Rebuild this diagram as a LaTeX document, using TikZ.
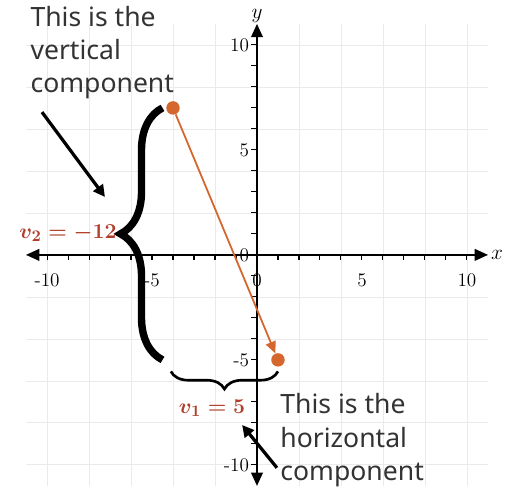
\documentclass[tikz,border=0pt]{standalone}
\usepackage{fontspec}
\usetikzlibrary{arrows.meta,decorations.pathreplacing,positioning}

\newfontfamily\notefont{Noto Sans}
\definecolor{vecorange}{RGB}{212,102,46}
\definecolor{labelred}{RGB}{176,62,42}
\definecolor{gridgray}{RGB}{234,234,234}
\definecolor{notegray}{RGB}{51,51,51}

\tikzset{
  note/.style={font=\notefont\fontsize{18}{22.5}\selectfont, text=notegray, align=left, inner sep=0pt},
  complabel/.style={font=\fontsize{15}{17}\selectfont\boldmath, text=labelred, inner sep=1pt},
  ticklabel/.style={font=\fontsize{13}{15}\selectfont, inner sep=1pt},
  axisname/.style={font=\fontsize{14}{16}\selectfont, inner sep=1pt},
  pointer/.style={line width=2.2pt, -{Triangle[length=8pt,width=8pt]}},
  compbrace/.style={decorate, decoration={brace, amplitude=#1}},
  enddot/.style={circle, fill=vecorange, inner sep=0pt, minimum size=0.32cm}
}

\begin{document}
\begin{tikzpicture}[x=0.5cm,y=0.5cm]
  \useasboundingbox (-12.24,-11.19) rectangle (11.86,12.14);

  % grid and axes
  \draw[gridgray, line width=0.5pt] (-11,-11) grid (11,11);
  \coordinate (xmin) at (-11,0);
  \coordinate (xmax) at (11,0);
  \coordinate (ymin) at (0,-11);
  \coordinate (ymax) at (0,11);
  \draw[line width=1pt, {Triangle[length=9pt,width=8pt]}-{Triangle[length=9pt,width=8pt]}] (xmin) -- (xmax);
  \draw[line width=1pt, {Triangle[length=9pt,width=8pt]}-{Triangle[length=9pt,width=8pt]}] (ymin) -- (ymax);
  \node[axisname, right=1pt of xmax] (xname) {$x$};
  \node[axisname, above=0pt of ymax] (yname) {$y$};

  \foreach \k in {-10,...,10} {
    \draw[line width=0.7pt] (\k,0) -- (\k,-0.25);
    \draw[line width=0.7pt] (0,\k) -- (-0.3,\k);
  }
  \foreach \k in {-10,-5,0,5,10} {
    \node[ticklabel] (xtick\k) at (\k,-1.2) {\k};
  }
  \foreach \k in {-10,-5,0,5,10} {
    \node[ticklabel, anchor=east] (ytick\k) at (-0.3,\k) {\k};
  }

  % the vector
  \node[enddot] (tail) at (-4,7) {};
  \node[enddot] (head) at (1,-5) {};
  \draw[vecorange, line width=1.2pt, -{Triangle[length=8pt,width=7pt]}] (tail) -- (head);

  % components
  \coordinate (vbot) at (-4.5,-5);
  \coordinate (vtop) at (-4.5,7);
  \draw[compbrace=1cm, line width=5pt] (vbot) -- (vtop);
  \node[complabel, anchor=east] (vtwo) at (-6.6,1.05) {$v_2 = -12$};

  \coordinate (hright) at (1,-5.55);
  \coordinate (hleft) at (-4.1,-5.55);
  \draw[compbrace=0.42cm, line width=1.8pt] (hright) -- (hleft);
  \node[complabel] (vone) at (-2.14,-7.3) {$v_1 = 5$};

  % notes
  \node[note, anchor=north west] (vnote) at (-10.8,11.85) {This is the\\vertical\\component};
  \coordinate (vtail) at (-10.24,6.8);
  \coordinate (vtip) at (-7.24,2.76);
  \draw[pointer] (vtail) -- (vtip);

  \node[note, anchor=north west] (hnote) at (1.1,-6.6) {This is the\\horizontal\\component};
  \coordinate (htail) at (0.95,-10.14);
  \coordinate (htip) at (-0.71,-8.1);
  \draw[pointer] (htail) -- (htip);
\end{tikzpicture}
\end{document}
